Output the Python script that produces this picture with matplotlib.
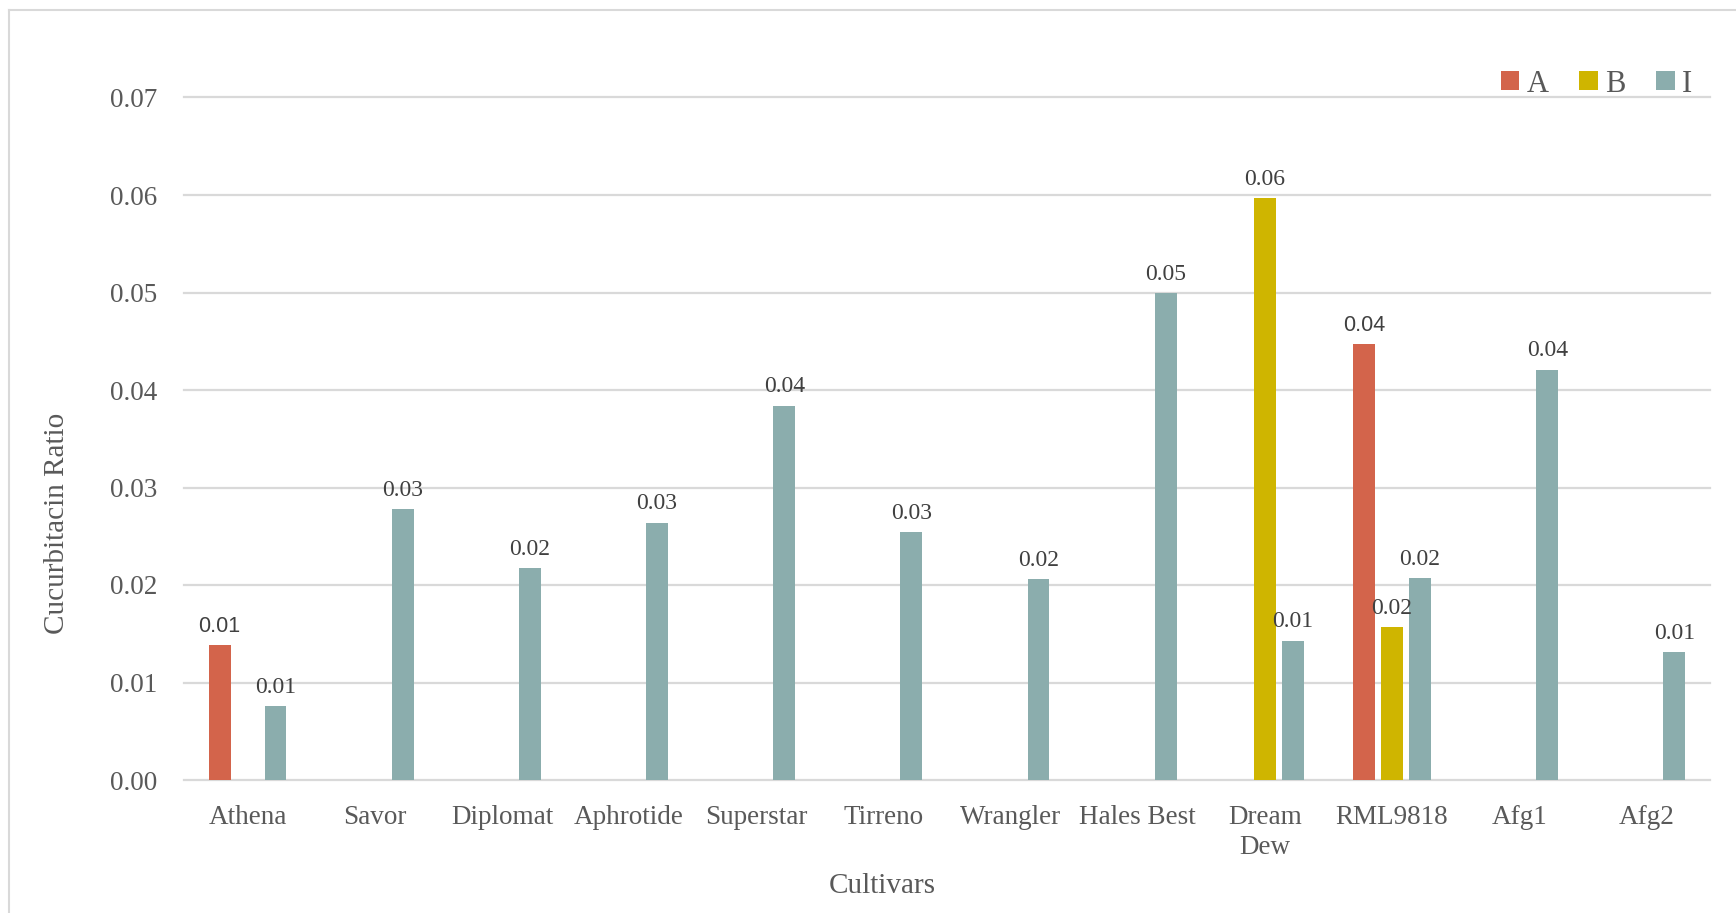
import numpy as np
import matplotlib
matplotlib.use("Agg")
import matplotlib.pyplot as plt
from matplotlib.lines import Line2D
from matplotlib.patches import Patch

cultivars = ["Athena", "Savor", "Diplomat", "Aphrotide", "Superstar", "Tirreno",
             "Wrangler", "Hales Best", "Dream\nDew", "RML9818", "Afg1", "Afg2"]
series_names = ["A", "B", "I"]
values_a = [0.0138, None, None, None, None, None, None, None, None, 0.0447, None, None]
values_b = [None, None, None, None, None, None, None, None, 0.0597, 0.0157, None, None]
values_i = [0.0076, 0.0278, 0.0217, 0.0264, 0.0384, 0.0254, 0.0206, 0.0499,
            0.0143, 0.0207, 0.0421, 0.0131]
y_ticks = [0.00, 0.01, 0.02, 0.03, 0.04, 0.05, 0.06, 0.07]

colors = ["#D3644B", "#CFB500", "#8BADAD"]
text_color = "#595959"
grid_color = "#D9D9D9"
serif = ["Liberation Serif", "DejaVu Serif"]
sans = ["Liberation Sans", "DejaVu Sans"]

W, H = 1736, 913
fig = plt.figure(figsize=(W / 100, H / 100), dpi=100)
ax = fig.add_axes([184 / W, 1 - 780 / H, (1710 - 184) / W, (780 - 97.5) / H])

x = np.arange(len(cultivars))
step = 0.22
width = 0.172
all_series = [values_a, values_b, values_i]
label_fonts = [sans, serif, serif]
label_sizes = [15.5, 17, 17]

for k, (vals, col) in enumerate(zip(all_series, colors)):
    xs = [xi + (k - 1) * step for xi, v in zip(x, vals) if v is not None]
    hs = [v for v in vals if v is not None]
    bars = ax.bar(xs, hs, width=width, color=col, zorder=3)
    for b, v in zip(bars, hs):
        ax.annotate(f"{v:.2f}", (b.get_x() + b.get_width() / 2, v),
                    xytext=(0, 6), textcoords="offset points",
                    ha="center", va="bottom", fontsize=label_sizes[k],
                    family=label_fonts[k], color="#404040", zorder=4)

ax.set_xlim(-0.5, len(cultivars) - 0.5)
ax.set_ylim(0, 0.07)
ax.set_yticks(y_ticks)
ax.set_yticklabels([f"{t:.2f}" for t in y_ticks], family=serif,
                   fontsize=19.5, color=text_color)
ax.set_xticks(x)
ax.set_xticklabels(cultivars, family=serif, fontsize=19.5, color=text_color,
                   linespacing=1.25)
ax.tick_params(axis="y", length=0, pad=19)
ax.tick_params(axis="x", length=0, pad=18)
ax.yaxis.grid(True, color=grid_color, linewidth=1.6, zorder=0)
for gl in ax.get_ygridlines():
    gl.set_clip_on(False)
ax.set_axisbelow(True)
for s in ax.spines.values():
    s.set_visible(False)

fig.text(882.5 / W, 1 - 886 / H, "Cultivars", ha="center", va="center",
         family=serif, fontsize=21, color=text_color)
fig.text(57 / W, 1 - 523 / H, "Cucurbitacin Ratio", ha="center", va="center",
         rotation=90, family=serif, fontsize=21, color=text_color)

handles = [Patch(facecolor=c, edgecolor="none") for c in colors]
leg = fig.legend(handles, series_names, loc="center right",
                 bbox_to_anchor=(1720 / W, 1 - 84 / H), ncol=3, frameon=False,
                 prop={"family": serif, "size": 22}, handlelength=0.6,
                 handleheight=0.6, handletextpad=0.25, columnspacing=1.0,
                 labelcolor=text_color)

# chart area outline (top and left edges)
fig.add_artist(Line2D([9 / W, 1], [1 - 10.5 / H, 1 - 10.5 / H],
                      transform=fig.transFigure, color=grid_color, linewidth=1.5))
fig.add_artist(Line2D([9 / W, 9 / W], [0, 1 - 10.5 / H],
                      transform=fig.transFigure, color=grid_color, linewidth=1.5))

fig.savefig("out.png", dpi=100, facecolor="white")
